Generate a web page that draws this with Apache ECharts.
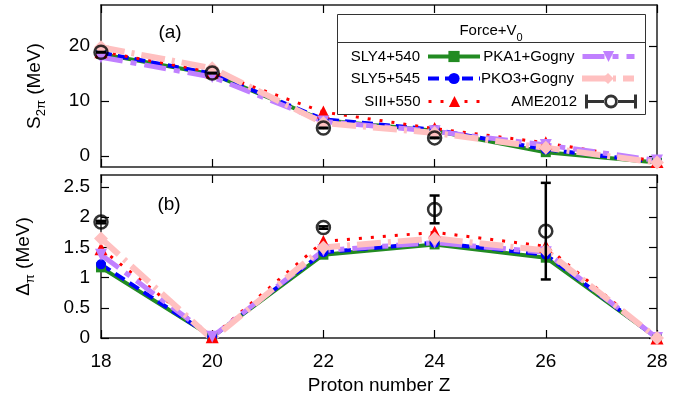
<!DOCTYPE html>
<html><head><meta charset="utf-8">
<script src="https://cdn.jsdelivr.net/npm/echarts@6/dist/echarts.min.js"></script>
<style>html,body{margin:0;padding:0;background:#fff}#c{width:691px;height:398px}</style>
</head><body><div id="c"></div>
<script>
const Z = [18, 20, 22, 24, 26, 28];
const xTicks = [18, 20, 22, 24, 26, 28];
const sTicks = [0, 10, 20];
const dTicks = [0, 0.5, 1, 1.5, 2, 2.5];

// S_2pi (MeV), panel (a)
const s_SLY4 = [18.6, 14.9, 6.5, 4.6, 0.7, -1.2];
const s_SLY5 = [18.8, 15.0, 6.7, 4.8, 1.2, -1.1];
const s_SIII = [19.0, 15.3, 8.0, 5.0, 2.4, -1.0];
const s_PKA1 = [18.0, 14.4, 6.3, 4.5, 2.0, -0.8];
const s_PKO3 = [19.8, 16.0, 6.0, 4.2, 1.5, -1.2];
const s_AMEz = [18, 20, 22, 24];
const s_AME = [18.9, 15.1, 5.1, 3.3];
const s_AMEerr = [0.05, 0.05, 0.05, 0.05];

// Delta_pi (MeV), panel (b)
const d_SLY4 = [1.17, 0.02, 1.38, 1.55, 1.33, 0];
const d_SLY5 = [1.22, 0.02, 1.42, 1.58, 1.38, 0];
const d_SIII = [1.48, 0.02, 1.60, 1.75, 1.52, 0];
const d_PKA1 = [1.38, 0.02, 1.45, 1.58, 1.42, 0];
const d_PKO3 = [1.65, -0.02, 1.50, 1.65, 1.45, 0];
const d_AMEz = [18, 22, 24, 26];
const d_AME = [1.92, 1.83, 2.13, 1.77];
const d_AMEerr = [0.02, 0.02, 0.23, 0.80];

const FONT = 'Liberation Sans';
const pair = (xs, ys) => xs.map((x, i) => [x, ys[i]]);

const styles = {
  'SLY4+540':   {color: '#228b22', width: 4, type: 'solid', symbol: 'rect', size: 10},
  'SLY5+545':   {color: '#0000ff', width: 4, type: [11, 6], symbol: 'circle', size: 10},
  'SIII+550':   {color: '#ff0000', width: 3, type: [3, 9], symbol: 'triangle', size: 13},
  'PKA1+Gogny': {color: '#c080ff', width: 5, type: [22, 8, 6, 8], symbol: 'path://M0,0 L10,0 L5,9 Z', size: 12},
  'PKO3+Gogny': {color: '#ffc0c0', width: 6, type: [24, 7, 3, 7], symbol: 'diamond', size: 14}
};

function lineSeries(name, ys, ax) {
  const st = styles[name];
  return {
    type: 'line', name: name, xAxisIndex: ax, yAxisIndex: ax,
    data: pair(Z, ys), symbol: st.symbol, symbolSize: st.size,
    showAllSymbol: true,
    lineStyle: {color: st.color, width: st.width, type: st.type},
    itemStyle: {color: st.color}, emphasis: {disabled: true}, z: 2
  };
}

function errSeries(xs, ys, es, ax) {
  return {
    type: 'custom', xAxisIndex: ax, yAxisIndex: ax, z: 5, silent: true,
    data: xs.map((x, i) => [x, ys[i] - es[i], ys[i] + es[i]]),
    renderItem: function (params, api) {
      const lo = api.coord([api.value(0), api.value(1)]);
      const hi = api.coord([api.value(0), api.value(2)]);
      const w = 5;
      const ls = {stroke: '#000', lineWidth: 2.5};
      return {type: 'group', children: [
        {type: 'line', shape: {x1: lo[0], y1: lo[1], x2: hi[0], y2: hi[1]}, style: ls},
        {type: 'line', shape: {x1: lo[0] - w, y1: lo[1], x2: lo[0] + w, y2: lo[1]}, style: ls},
        {type: 'line', shape: {x1: hi[0] - w, y1: hi[1], x2: hi[0] + w, y2: hi[1]}, style: ls}
      ]};
    }
  };
}

function ameSeries(xs, ys, ax) {
  return {
    type: 'scatter', name: 'AME2012', xAxisIndex: ax, yAxisIndex: ax, z: 6,
    data: pair(xs, ys), symbol: 'circle', symbolSize: 13,
    itemStyle: {color: 'rgba(0,0,0,0)', borderColor: '#000', borderWidth: 2.5},
    emphasis: {disabled: true}
  };
}

const tickStyle = {inside: true, length: 8, lineStyle: {color: '#000', width: 1.2}};
const lineAx = {show: true, onZero: false, lineStyle: {color: '#222', width: 1.5}};
const lblStyle = {fontFamily: FONT, fontSize: 19, color: '#000'};

function xAx(grid, pos, labels) {
  return {
    type: 'value', gridIndex: grid, position: pos, min: 18, max: 28, interval: 2,
    axisLine: lineAx, axisTick: tickStyle, splitLine: {show: false},
    axisLabel: Object.assign({show: labels, margin: 14}, lblStyle),
    name: labels ? 'Proton number Z' : '', nameLocation: 'middle', nameGap: 38,
    nameTextStyle: lblStyle
  };
}

const ICON_AME = 'path://M0,0 H3 V5.5 H19.5 V8.5 H3 V14 H0 Z M49,0 H52 V14 H49 V8.5 H32.5 V5.5 H49 Z M33,7 A7,7 0 1 0 19,7 A7,7 0 1 0 33,7 Z M30,7 A4,4 0 1 1 22,7 A4,4 0 1 1 30,7 Z';

function leg(name, right, yc, icon) {
  const d = {name: name};
  if (icon) {
    d.icon = icon;
    d.itemStyle = {color: '#000', borderWidth: 0, borderColor: 'rgba(0,0,0,0)'};
  }
  return {
    data: [d], right: right, top: yc - 8, align: 'right', orient: 'horizontal',
    itemWidth: 52, itemHeight: 14, padding: 0, z: 10, selectedMode: false,
    textStyle: {fontFamily: FONT, fontSize: 15, color: '#000', padding: [0, 3, 0, 0]},
    lineStyle: {width: 'inherit', type: 'inherit'}
  };
}

const subRich = {s: {fontFamily: FONT, fontSize: 13, color: '#000', verticalAlign: 'bottom', padding: [0, 0, -4, 0]}};

const option = {
  animation: false,
  backgroundColor: '#fff',
  grid: [
    {left: 101, right: 34, top: 5, height: 162},
    {left: 101, right: 34, top: 175, height: 163}
  ],
  xAxis: [xAx(0, 'bottom', false), xAx(0, 'top', false), xAx(1, 'bottom', true), xAx(1, 'top', false)],
  yAxis: [
    {type: 'value', gridIndex: 0, position: 'left', min: -2, max: 27.5,
     axisLine: lineAx, axisTick: Object.assign({customValues: sTicks}, tickStyle), splitLine: {show: false},
     axisLabel: Object.assign({customValues: sTicks, margin: 11}, lblStyle),
     name: 'S{s|2π} (MeV)', nameLocation: 'middle', nameGap: 57, nameRotate: 90,
     nameTextStyle: Object.assign({rich: subRich}, lblStyle)},
    {type: 'value', gridIndex: 0, position: 'right', min: -2, max: 27.5,
     axisLine: lineAx, axisTick: Object.assign({customValues: sTicks}, tickStyle), splitLine: {show: false},
     axisLabel: {show: false}},
    {type: 'value', gridIndex: 1, position: 'left', min: 0, max: 2.7,
     axisLine: lineAx, axisTick: Object.assign({customValues: dTicks}, tickStyle), splitLine: {show: false},
     axisLabel: Object.assign({customValues: dTicks, margin: 11}, lblStyle),
     name: 'Δ{s|π} (MeV)', nameLocation: 'middle', nameGap: 68, nameRotate: 90,
     nameTextStyle: Object.assign({rich: subRich}, lblStyle)},
    {type: 'value', gridIndex: 1, position: 'right', min: 0, max: 2.7,
     axisLine: lineAx, axisTick: Object.assign({customValues: dTicks}, tickStyle), splitLine: {show: false},
     axisLabel: {show: false}}
  ],
  legend: [
    leg('SLY4+540', 209, 57), leg('SLY5+545', 209, 79), leg('SIII+550', 209, 102),
    leg('PKA1+Gogny', 54, 57), leg('PKO3+Gogny', 54, 79), leg('AME2012', 54, 102, ICON_AME)
  ],
  graphic: [
    {type: 'rect', shape: {x: 337.5, y: 14.5, width: 308, height: 100}, style: {fill: '#fff', stroke: '#333', lineWidth: 1}, z: 8},
    {type: 'line', shape: {x1: 337.5, y1: 42.5, x2: 645.5, y2: 42.5}, style: {stroke: '#333', lineWidth: 1}, z: 8},
    {type: 'text', x: 491, y: 31, z: 9, style: {text: 'Force+V{s|0}', align: 'center', verticalAlign: 'middle', fontFamily: FONT, fontSize: 15, fill: '#000',
      rich: {s: {fontFamily: FONT, fontSize: 11, fill: '#000', verticalAlign: 'bottom', padding: [0, 0, -5, 0]}}}},
    {type: 'text', x: 170, y: 33, z: 9, style: {text: '(a)', align: 'center', verticalAlign: 'middle', fontFamily: FONT, fontSize: 19, fill: '#000'}},
    {type: 'text', x: 169, y: 205, z: 9, style: {text: '(b)', align: 'center', verticalAlign: 'middle', fontFamily: FONT, fontSize: 19, fill: '#000'}}
  ],
  series: [
    lineSeries('SLY4+540', s_SLY4, 0), lineSeries('SLY5+545', s_SLY5, 0), lineSeries('SIII+550', s_SIII, 0),
    lineSeries('PKA1+Gogny', s_PKA1, 0), lineSeries('PKO3+Gogny', s_PKO3, 0),
    errSeries(s_AMEz, s_AME, s_AMEerr, 0), ameSeries(s_AMEz, s_AME, 0),
    lineSeries('SLY4+540', d_SLY4, 2), lineSeries('SLY5+545', d_SLY5, 2), lineSeries('SIII+550', d_SIII, 2),
    lineSeries('PKA1+Gogny', d_PKA1, 2), lineSeries('PKO3+Gogny', d_PKO3, 2),
    errSeries(d_AMEz, d_AME, d_AMEerr, 2), ameSeries(d_AMEz, d_AME, 2)
  ]
};
const chart = echarts.init(document.getElementById('c'), null, {renderer: 'canvas'});
chart.setOption(option);
</script></body></html>
